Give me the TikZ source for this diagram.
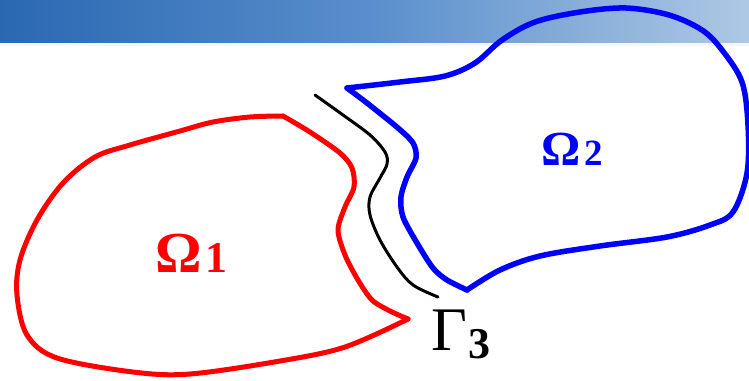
\documentclass[tikz,border=0pt]{standalone}
\usepackage{fontspec}
\setmainfont{Liberation Serif}
\definecolor{bandL}{HTML}{2A68B2}
\definecolor{bandM}{HTML}{5A8FCC}
\definecolor{bandR}{HTML}{AEC8E4}
\definecolor{omred}{HTML}{FF0000}
\definecolor{omblue}{HTML}{0000FF}
\tikzset{
  redline/.style={draw=omred,line width=5pt,line join=round,line cap=round},
  blueline/.style={draw=omblue,line width=5.5pt,line join=round,line cap=round},
  gline/.style={draw=black,line width=3pt,line cap=round},
  lab/.style={inner sep=0pt,anchor=base west}
}
\begin{document}
\begin{tikzpicture}[x=1pt,y=-1pt]
\useasboundingbox (0,0) rectangle (749,380);
% banner
\shade[left color=bandL,right color=bandR,middle color=bandM] (0,0) rectangle (749,45);
\fill[white!85!bandR] (0,43) rectangle (749,46);
% Omega 1 (red)
\draw[redline] plot[smooth,tension=0.5] coordinates {(408,319) (390,311) (372,300) (358,280) (345,255) (338,230) (345,207) (354,187) (352,168) (340,153) (310,132) (283,116)};
\draw[redline] plot[smooth,tension=0.55] coordinates {(283,116) (250,117) (213,122) (180,131) (130,145) (95,157) (63,183) (37,220) (20,260) (17,295) (27,335) (57,358) (133,372) (190,374) (280,361) (345,347) (408,319)};
% Gamma 3 (black)
\draw[gline] plot[smooth,tension=0.55] coordinates {(315,95) (343,115) (370,135) (385,152) (387,164) (380,178) (370,197) (370,215) (380,240) (397,267) (413,285) (438,297)};
% Omega 2 (blue)
\draw[blueline] plot[smooth,tension=0.55] coordinates {(347,88) (400,82) (445,76) (475,63) (502,40) (535,22) (580,12) (626,8) (669,15) (702,30) (722,50) (742,82) (748,125) (747,173) (733,212) (710,225) (667,237) (600,246) (540,256) (500,270) (467,290)};
\draw[blueline] plot[smooth,tension=0.5] coordinates {(467,290) (447,280) (433,268) (417,243) (403,217) (401,197) (407,177) (416,158) (413,143) (398,128) (367,103) (347,88)};
% labels
\node[lab,text=omred] (o1) at (155,272) {\bfseries\fontsize{58}{58}\selectfont Ω\kern4pt\fontsize{44}{44}\selectfont 1};
\node[lab,text=omblue] (o2) at (541,165) {\bfseries\fontsize{49}{49}\selectfont Ω\kern4pt\fontsize{37}{37}\selectfont 2};
\node[lab,text=black] (g3) at (431,350) {\fontsize{62}{62}\selectfont Γ\kern1pt\raisebox{-8pt}{\bfseries\fontsize{44}{44}\selectfont 3}};
\end{tikzpicture}
\end{document}
